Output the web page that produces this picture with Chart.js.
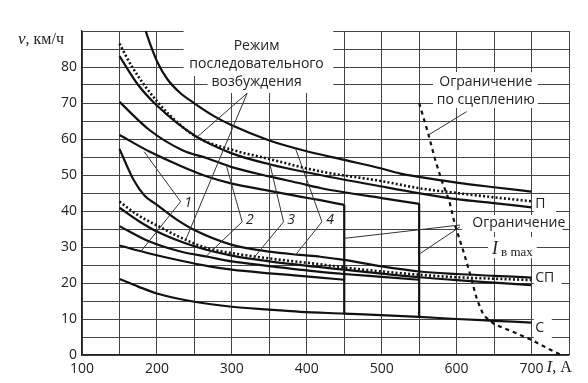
<!DOCTYPE html>
<html><head><meta charset="utf-8">
<script src="https://cdn.jsdelivr.net/npm/chart.js@4"></script>
<style>html,body{margin:0;padding:0;background:#fff}</style>
</head><body>
<canvas id="c" width="588" height="383"></canvas>
<script>
// ---- data (x = I, A ; y = v, km/h) ----
const xTicks = [100,200,300,400,500,600,700];
const yTicks = [0,10,20,30,40,50,60,70,80];
// П (parallel) group
const P4  = [[185,90],[192,85.8],[201,81.2],[214,76.6],[230,73],[250,69.9],[275,66.5],[300,63.8],[350,59.6],[400,56.6],[450,54.2],[500,51.8],[525,50.4],[550,49.5],[600,47.9],[650,46.6],[700,45.4]];
const Pser = [[150,86.5],[167,80],[200,70.5],[234,63.4],[258,60],[300,57],[347,54.6],[418,51],[500,48.3],[551,46.3],[600,45],[650,43.8],[700,42.7]];
const P3  = [[150,83],[175,75],[200,69.3],[250,61],[300,56],[350,53],[418,50],[500,46.8],[551,44.9],[600,43.3],[650,42.2],[700,41]];
const P2  = [[150,70.3],[190,62.5],[234,56.9],[268,54.6],[300,52.2],[350,49.6],[391,47.7],[418,46.4],[450,45.2],[500,43.6],[550,42]];
const P1  = [[150,61.1],[190,56.5],[234,52.3],[268,49.5],[300,47.6],[350,45.6],[391,44],[418,43],[450,41.7]];
// СП (series-parallel) group
const SP4 = [[150,57.2],[169,48.6],[183,44.4],[200,41.7],[225,37.8],[250,34.7],[300,30.6],[350,28.7],[391,27.8],[418,27.3],[450,26.4],[500,24.6],[550,23.2],[600,22.5],[650,22],[700,21.5]];
const SPser = [[150,42.6],[175,38.8],[199,36.1],[234,32.4],[268,29.6],[303,28.2],[347,26.9],[425,25],[450,24.3],[500,23.2],[550,22.3],[600,21.6],[650,21.2],[700,20.8]];
const SP3 = [[150,40.9],[175,37.3],[200,34.3],[250,30.2],[300,27.6],[350,26],[418,24.4],[450,23.7],[500,22.6],[550,21.6],[600,20.8],[650,20.1],[700,19.4]];
const SP2 = [[150,35.8],[190,31.5],[234,28.6],[268,27.3],[300,26],[350,24.7],[418,23.1],[450,22.5],[500,21.7],[550,20.9]];
const SP1 = [[150,30.4],[190,28.2],[234,26.1],[268,24.7],[300,23.7],[350,22.7],[391,22],[418,21.5],[450,20.9]];
// С (series) group
const S   = [[150,21.1],[175,19],[200,17.1],[250,14.8],[300,13.4],[350,12.6],[391,12],[450,11.5],[550,10.6],[600,10],[650,9.5],[700,9]];
// field-current limits (I_в max)
const limit450 = [[450,41.7],[450,11.5]];
const limit550 = [[550,42],[550,10.6]];
// adhesion limit
const adhesion = [[550,70],[562,61.6],[571,54.5],[580,48.5],[590,43],[598,36],[608,29.5],[618,22.5],[627,15.5],[636,11],[650,8.6],[680,6],[700,4.2],[720,2],[740,0]];

// annotation anchors (data units)
const lead1 = [[182.8,56.5],[231.6,42.6],[178.4,28.7]];
const lead2 = [[293,52.4],[313.8,37],[265,27.3]];
const lead3 = [[350.8,53],[369,37],[329,26.9]];
const lead4 = [[384.7,57.5],[420.3,37],[385,27.8]];
const leadSer = [[[320.4,72.7],[253.9,60.6]],[[320.4,72.7],[238,31.8]]];
const leadAdh = [[613.4,67.6],[562.3,61.1]];
const leadLim = [[[604.5,36.1],[450,32.4]],[[604.5,35.6],[550,28]]];

const pts = a => a.map(p => ({x:p[0], y:p[1]}));
const solid = (d) => ({data:pts(d), borderColor:'#111', borderWidth:2.2, pointRadius:0, fill:false, cubicInterpolationMode:'monotone'});
const dotted = (d) => ({data:pts(d), borderColor:'#111', borderWidth:2.6, borderDash:[2,2.2], pointRadius:0, fill:false, cubicInterpolationMode:'monotone'});
const straight = (d, dash) => ({data:pts(d), borderColor:'#111', borderWidth:2.2, borderDash:dash||[], pointRadius:0, fill:false, tension:0});

const whiteBoxes = [
  [235.6,435.3,90,77.5],[267.6,435.3,77.5,72.8],
  [568.4,708.3,78.6,68.6],
  [607,741.4,38.9,34.2],[641.8,707,32.8,26.9],
  [703,732.5,44.7,39.2],[703,740,24.2,18.1],[703,727,10.3,4.7]
];

const annot = {
  id:'annot',
  beforeDatasetsDraw(chart){
    const {ctx, scales:{x,y}} = chart;
    ctx.save(); ctx.fillStyle='#fff';
    for (const b of whiteBoxes){
      const x0=x.getPixelForValue(b[0]), x1=x.getPixelForValue(b[1]);
      const y0=y.getPixelForValue(b[2]), y1=y.getPixelForValue(b[3]);
      ctx.fillRect(Math.min(x0,x1), Math.min(y0,y1), Math.abs(x1-x0), Math.abs(y1-y0));
    }
    ctx.restore();
  },
  afterDatasetsDraw(chart){
    const {ctx, scales:{x,y}} = chart;
    const P = p => [x.getPixelForValue(p[0]), y.getPixelForValue(p[1])];
    const poly = arr => { ctx.beginPath(); arr.forEach((p,i)=>{const q=P(p); i?ctx.lineTo(q[0],q[1]):ctx.moveTo(q[0],q[1]);}); ctx.stroke(); };
    ctx.save();
    ctx.strokeStyle='#333'; ctx.lineWidth=1;
    [lead1,lead2,lead3,lead4,leadAdh].forEach(poly);
    leadSer.forEach(poly); leadLim.forEach(poly);
    ctx.fillStyle='#222';
    ctx.textAlign='center'; ctx.textBaseline='middle';
    ctx.font='14px "Open Sans"';
    const T = (s, dx, dy) => { const q=P([dx,dy]); ctx.fillText(s,q[0],q[1]); };
    T('Режим',333,85.9); T('последовательного',333,80.8); T('возбуждения',333,75.8);
    T('Ограничение',639,75.8); T('по сцеплению',639,70.8);
    T('Ограничение',683,36.7);
    ctx.textAlign='left';
    T('П',705,42); T('СП',705,21.3); T('С',705,7.6);
    ctx.font='italic 14px "Open Sans"';
    T('1',236.5,42.2); T('2',319,37.5); T('3',374,37.5); T('4',426,37.5);
    // I_в max
    ctx.font='italic 18px "Liberation Serif"';
    const q=P([650,29.5]); ctx.fillText('I', q[0]-2, q[1]);
    ctx.font='13px "Liberation Serif"';
    ctx.fillText('в max', q[0]+7, q[1]+4);
    ctx.restore();
  },
  afterDraw(chart){
    const {ctx, scales:{x,y}} = chart;
    ctx.save(); ctx.fillStyle='#222'; ctx.textBaseline='middle'; ctx.textAlign='left';
    let px=18, py=y.getPixelForValue(87.5);
    ctx.font='italic 17px "Liberation Serif"'; ctx.fillText('v', px, py); px+=ctx.measureText('v').width;
    ctx.font='16px "Liberation Serif"'; ctx.fillText(', км/ч', px, py);
    px = x.getPixelForValue(700)+15; py = y.bottom+13;
    ctx.font='italic 17px "Liberation Serif"'; ctx.fillText('I', px, py); px+=ctx.measureText('I').width;
    ctx.font='16px "Liberation Serif"'; ctx.fillText(', А', px, py);
    ctx.restore();
  }
};

new Chart(document.getElementById('c'), {
  type:'line',
  data:{datasets:[
    solid(P4), dotted(Pser), solid(P3), solid(P2), solid(P1),
    solid(SP4), dotted(SPser), solid(SP3), solid(SP2), solid(SP1),
    solid(S), straight(limit450), straight(limit550), straight(adhesion,[4,4])
  ]},
  options:{
    responsive:false, animation:false, devicePixelRatio:1,
    layout:{padding:{top:31,right:19,left:0,bottom:0}},
    plugins:{legend:{display:false}, tooltip:{enabled:false}},
    scales:{
      x:{type:'linear', min:100, max:750,
        afterFit:s=>{s.height=28;},
        afterBuildTicks:s=>{s.ticks=[];for(let v=100;v<=750;v+=50)s.ticks.push({value:v});},
        ticks:{autoSkip:false, maxRotation:0, padding:6, color:'#222', font:{family:'Open Sans', size:14},
          callback:v=> xTicks.includes(v)?String(v):''},
        grid:{color:'#444', lineWidth:1, drawTicks:false},
        border:{color:'#222', width:1.2}},
      y:{min:0, max:90,
        afterFit:s=>{s.width=82;},
        afterBuildTicks:s=>{s.ticks=[];for(let v=0;v<=90;v+=5)s.ticks.push({value:v});},
        ticks:{autoSkip:false, padding:5, color:'#222', font:{family:'Open Sans', size:14},
          callback:v=> yTicks.includes(v)?String(v):''},
        grid:{color:'#444', lineWidth:1, drawTicks:false},
        border:{color:'#222', width:1.2}}
    }
  },
  plugins:[annot]
});
</script>
</body></html>
